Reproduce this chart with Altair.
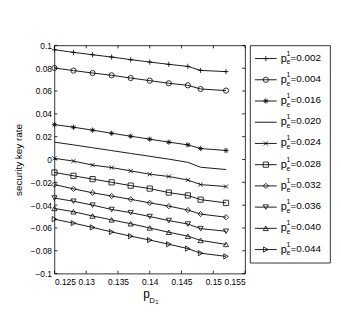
import altair as alt
import pandas as pd

# ---- data ----
x_vals = [0.125, 0.128, 0.131, 0.134, 0.137, 0.140, 0.143, 0.146, 0.148, 0.152]
series_names = ["0.002", "0.004", "0.016", "0.020", "0.024",
                "0.028", "0.032", "0.036", "0.040", "0.044"]
s002 = [0.0962, 0.0939, 0.0918, 0.0898, 0.0875, 0.0854, 0.0834, 0.0816, 0.0781, 0.0770]
s004 = [0.0802, 0.0779, 0.0758, 0.0738, 0.0714, 0.0691, 0.0668, 0.0650, 0.0618, 0.0604]
s016 = [0.0306, 0.0283, 0.0257, 0.0230, 0.0204, 0.0178, 0.0152, 0.0128, 0.0096, 0.0079]
s020 = [0.0152, 0.0128, 0.0103, 0.0078, 0.0053, 0.0028, 0.0003, -0.0025, -0.0068, -0.0088]
s024 = [0.0010, -0.0014, -0.0049, -0.0071, -0.0100, -0.0129, -0.0149, -0.0180, -0.0220, -0.0237]
s028 = [-0.0114, -0.0143, -0.0172, -0.0200, -0.0229, -0.0255, -0.0290, -0.0315, -0.0352, -0.0380]
s032 = [-0.0220, -0.0257, -0.0292, -0.0320, -0.0349, -0.0380, -0.0409, -0.0443, -0.0478, -0.0506]
s036 = [-0.0338, -0.0366, -0.0400, -0.0438, -0.0466, -0.0500, -0.0535, -0.0566, -0.0606, -0.0629]
s040 = [-0.0429, -0.0458, -0.0495, -0.0529, -0.0563, -0.0600, -0.0638, -0.0672, -0.0709, -0.0744]
s044 = [-0.0523, -0.0558, -0.0595, -0.0635, -0.0672, -0.0706, -0.0743, -0.0781, -0.0821, -0.0849]
series_values = [s002, s004, s016, s020, s024, s028, s032, s036, s040, s044]

x_ticks = [0.125, 0.13, 0.135, 0.14, 0.145, 0.15, 0.155]
y_ticks = [-0.1, -0.08, -0.06, -0.04, -0.02, 0, 0.02, 0.04, 0.06, 0.08, 0.1]

PLUS = "M-1,0L1,0M0,-1L0,1"
XMARK = "M-0.8,-0.8L0.8,0.8M-0.8,0.8L0.8,-0.8"
STAR = "M-1,0L1,0M0,-1L0,1M-0.7,-0.7L0.7,0.7M-0.7,0.7L0.7,-0.7"
marker_shapes = [PLUS, "circle", STAR, "circle", XMARK, "square",
                 "diamond", "triangle-down", "triangle-up", "triangle-right"]
has_marker = [True, True, True, False, True, True, True, True, True, True]

rows = []
for name, vals, mk in zip(series_names, series_values, has_marker):
    for xv, yv in zip(x_vals, vals):
        rows.append({"series": name, "x": xv, "y": yv, "marker": mk})
df = pd.DataFrame(rows)

FONT = "Liberation Sans"
W, H = 193, 231

xscale = alt.Scale(domain=[0.125, 0.155], nice=False, zero=False)
yscale = alt.Scale(domain=[-0.1, 0.1], nice=False, zero=False)
xaxis = alt.Axis(values=x_ticks, labelExpr="format(datum.value, '~g')",
                 tickSize=0, labelPadding=4, domain=False, grid=False,
                 labelFontSize=8.5, labelFont=FONT, labelColor="black", title=None)
yaxis = alt.Axis(values=y_ticks, labelExpr="format(datum.value, '~g')",
                 tickSize=0, labelPadding=3, domain=False, grid=False,
                 labelFontSize=8.5, labelFont=FONT, labelColor="black",
                 title="security key rate", titleFont=FONT, titleFontSize=10,
                 titleFontWeight="normal", titleColor="black", titlePadding=5,
                 minExtent=26, maxExtent=26)
X = alt.X("x:Q", scale=xscale, axis=xaxis)
Y = alt.Y("y:Q", scale=yscale, axis=yaxis)

shape_scale = alt.Scale(domain=series_names, range=marker_shapes)

base = alt.Chart(df)
lines = base.mark_line(color="black", strokeWidth=0.9).encode(x=X, y=Y, detail="series:N")
points = base.transform_filter("datum.marker").mark_point(
    filled=False, color="black", strokeWidth=0.8, size=28, opacity=1
).encode(x=X, y=Y, shape=alt.Shape("series:N", scale=shape_scale, legend=None))

xt_df = pd.DataFrame({"x": x_ticks})
yt_df = pd.DataFrame({"y": y_ticks})
tick_style = dict(color="black", strokeWidth=0.8)
xt_bot = alt.Chart(xt_df).mark_rule(**tick_style).encode(x=X, y=alt.value(H), y2=alt.value(H - 3))
xt_top = alt.Chart(xt_df).mark_rule(**tick_style).encode(x=X, y=alt.value(0), y2=alt.value(3))
yt_left = alt.Chart(yt_df).mark_rule(**tick_style).encode(y=Y, x=alt.value(0), x2=alt.value(3))
yt_right = alt.Chart(yt_df).mark_rule(**tick_style).encode(y=Y, x=alt.value(W), x2=alt.value(W - 3))

one = pd.DataFrame({"k": [0]})
t_p = alt.Chart(one).mark_text(font=FONT, fontSize=12, align="left", baseline="alphabetic",
                               color="black").encode(x=alt.value(90), y=alt.value(256), text=alt.value("p"))
t_d = alt.Chart(one).mark_text(font=FONT, fontSize=8, align="left", baseline="alphabetic",
                               color="black").encode(x=alt.value(96), y=alt.value(261), text=alt.value("D"))
t_1 = alt.Chart(one).mark_text(font=FONT, fontSize=6, align="left", baseline="alphabetic",
                               color="black").encode(x=alt.value(102), y=alt.value(262), text=alt.value("1"))

main = alt.layer(lines, points, xt_bot, xt_top, yt_left, yt_right, t_p, t_d, t_1).properties(
    width=W, height=H)

# ---- legend panel ----
leg_df = pd.DataFrame({"series": series_names, "marker": has_marker})
LY = alt.Y("series:N", sort=series_names, axis=None,
           scale=alt.Scale(type="point", domain=series_names, padding=0.62))
leg_base = alt.Chart(leg_df)
leg_line = leg_base.mark_rule(color="black", strokeWidth=0.9).encode(
    y=LY, x=alt.value(5), x2=alt.value(27))
leg_pts = leg_base.transform_filter("datum.marker").mark_point(
    filled=False, color="black", strokeWidth=0.8, size=28, opacity=1
).encode(y=LY, x=alt.value(16), shape=alt.Shape("series:N", scale=shape_scale, legend=None))
leg_p = leg_base.mark_text(font=FONT, fontSize=11, align="left", baseline="middle",
                           color="black").encode(y=LY, x=alt.value(31), text=alt.value("p"))
leg_sup = leg_base.mark_text(font=FONT, fontSize=7, align="left", baseline="middle",
                             color="black", dy=-5).encode(y=LY, x=alt.value(37), text=alt.value("1"))
leg_sub = leg_base.mark_text(font=FONT, fontSize=7, align="left", baseline="middle",
                             color="black", dy=4).encode(y=LY, x=alt.value(37), text=alt.value("e"))
leg_txt = leg_base.transform_calculate(lab="'=' + datum.series").mark_text(
    font=FONT, fontSize=10, align="left", baseline="middle", color="black", dy=-1
).encode(y=LY, x=alt.value(41), text="lab:N")

legend = alt.layer(leg_line, leg_pts, leg_p, leg_sup, leg_sub, leg_txt).properties(
    width=81, height=220)

chart = alt.hconcat(main, legend, spacing=5, bounds="flush").resolve_scale(
    shape="shared").configure_view(stroke="black", strokeWidth=0.8).properties(
    padding={"left": 5, "top": 31, "right": 2, "bottom": 2},
    background="white")

chart.save("out.html", embed_options={"renderer": "svg", "actions": False})
